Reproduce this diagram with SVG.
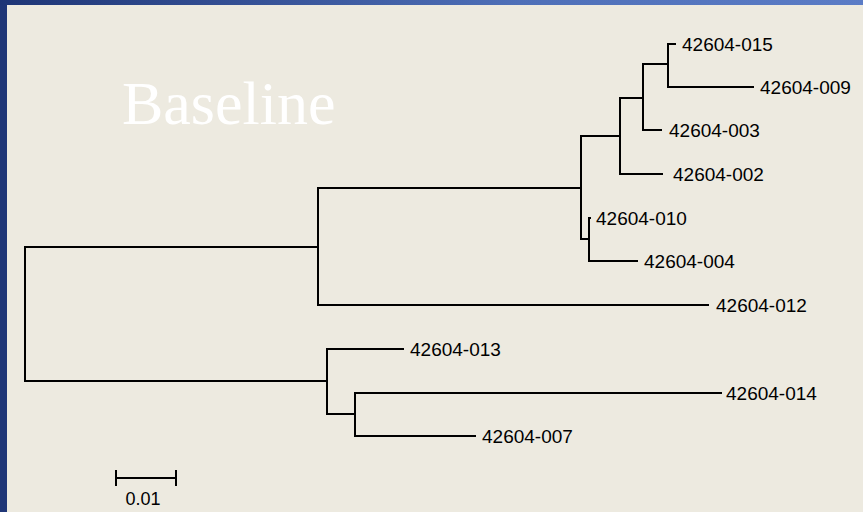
<svg xmlns="http://www.w3.org/2000/svg" width="863" height="512" viewBox="0 0 863 512">
<defs>
<linearGradient id="top" x1="0" y1="0" x2="1" y2="0">
<stop offset="0" stop-color="#1e3576"/>
<stop offset="0.6" stop-color="#4e6fb8"/>
<stop offset="1" stop-color="#5b7cc6"/>
</linearGradient>
</defs>
<style>
.br{stroke:#000;stroke-width:2;fill:none;stroke-linecap:square}
.lb{font-family:"Liberation Sans",Arial,sans-serif;font-size:19px;fill:#000}
.ttl{font-family:"Liberation Serif","Times New Roman",serif;font-size:62px;fill:#ffffff}
</style>
<rect x="0" y="0" width="863" height="512" fill="#1f3677"/>
<rect x="0" y="0" width="863" height="5" fill="url(#top)"/>
<rect x="7" y="5" width="856" height="507" fill="#edeae0"/>
<text class="ttl" x="122" y="124">Baseline</text>
<g id="connectors">
<path class="br" d="M25,247 H318 M25,247 V381 H327"/>
<path class="br" d="M318,188 V305 M318,188 H581 M318,305 H708"/>
<path class="br" d="M581,136 V239 M581,136 H620 M581,239 H589"/>
<path class="br" d="M620,98 V174 M620,98 H643 M620,174 H662"/>
<path class="br" d="M643,64 V130 M643,64 H668 M643,130 H661"/>
<path class="br" d="M668,44 V87 M668,44 H675 M668,87 H753"/>
<path class="br" d="M589,218 V261 M589,218 H590 M589,261 H637"/>
<path class="br" d="M327,349 V414 M327,349 H403 M327,414 H355"/>
<path class="br" d="M355,393 V436 M355,393 H721 M355,436 H475"/>
</g>
<g id="n015"><text class="lb" x="682" y="51">42604-015</text></g>
<g id="n009"><text class="lb" x="760" y="94">42604-009</text></g>
<g id="n003"><text class="lb" x="669" y="137">42604-003</text></g>
<g id="n002"><text class="lb" x="673" y="181">42604-002</text></g>
<g id="n010"><text class="lb" x="596" y="225">42604-010</text></g>
<g id="n004"><text class="lb" x="644" y="268">42604-004</text></g>
<g id="n012"><text class="lb" x="716" y="312">42604-012</text></g>
<g id="n013"><text class="lb" x="410" y="356">42604-013</text></g>
<g id="n014"><text class="lb" x="726" y="400">42604-014</text></g>
<g id="n007"><text class="lb" x="482" y="443">42604-007</text></g>
<g id="scale">
<path class="br" d="M116,478 H176 M116,471 V485 M176,471 V485"/>
<text class="lb" x="143" y="505" text-anchor="middle" style="font-size:18px">0.01</text>
</g>
</svg>
